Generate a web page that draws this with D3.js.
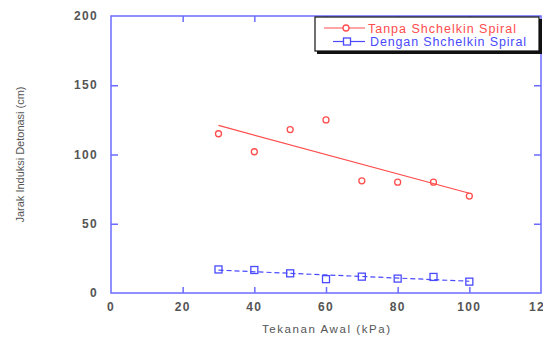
<!DOCTYPE html>
<html>
<head>
<meta charset="utf-8">
<style>
  body { margin: 0; background: #fff; }
  text { font-family: "Liberation Sans", Arial, sans-serif; }
</style>
</head>
<body>
<svg id="chart" width="543" height="338"></svg>
<script src="https://d3js.org/d3.v7.min.js"></script>
<script>

// data
var pressure = [30, 40, 50, 60, 70, 80, 90, 100];
var tanpa = [115, 102, 118, 125, 81, 80, 80, 70];
var dengan = [17, 16.6, 14.2, 10, 11.8, 10.4, 11.6, 8.2];
var tanpaFit = [[30, 121], [100, 72]];
var denganFit = [[30, 16.5], [100, 8.5]];
var xTicks = [0, 20, 40, 60, 80, 100, 120];
var yTicks = [0, 50, 100, 150, 200];
var seriesNames = ["Tanpa Shchelkin Spiral", "Dengan Shchelkin Spiral"];

var svg = d3.select("#chart"),
    margin = {top: 16, right: 2, bottom: 45, left: 111},
    width = +svg.attr("width") - margin.left - margin.right,
    height = +svg.attr("height") - margin.top - margin.bottom,
    g = svg.append("g").attr("transform", "translate(" + margin.left + "," + margin.top + ")");

var axisColor = "#6b6bff",
    red = "#ff4d4d",
    blue = "#4a4aff",
    labelColor = "#555";

var x = d3.scaleLinear().domain([0, 120]).range([0, width]);
var y = d3.scaleLinear().domain([0, 200]).range([height, 0]);

// frame
g.append("rect")
    .attr("width", width)
    .attr("height", height)
    .attr("fill", "none")
    .attr("stroke", axisColor)
    .attr("stroke-width", 1.5);

// inner ticks, all four sides
function ticks(axis, scale, vals) {
  var a = g.append("g");
  if (axis === "bottom") a.attr("transform", "translate(0," + height + ")").call(d3.axisBottom(scale).tickValues(vals).tickSize(-6).tickFormat(""));
  if (axis === "top") a.call(d3.axisTop(scale).tickValues(vals).tickSize(-6).tickFormat(""));
  if (axis === "left") a.call(d3.axisLeft(scale).tickValues(vals).tickSize(-7).tickFormat(""));
  if (axis === "right") a.attr("transform", "translate(" + width + ",0)").call(d3.axisRight(scale).tickValues(vals).tickSize(-7).tickFormat(""));
  a.select(".domain").remove();
  a.selectAll("line").attr("stroke", axisColor).attr("stroke-width", 1.5);
}
ticks("bottom", x, xTicks.slice(1, -1));
ticks("top", x, xTicks.slice(1, -1));
ticks("left", y, yTicks.slice(1, -1));
ticks("right", y, yTicks.slice(1, -1));

// tick labels
g.selectAll(".xlab")
  .data(xTicks)
  .enter().append("text")
    .attr("x", function(d) { return x(d); })
    .attr("y", height + 18)
    .attr("text-anchor", "middle")
    .attr("fill", labelColor)
    .attr("font-size", 12)
    .attr("font-weight", "bold")
    .attr("letter-spacing", 1.3)
    .text(function(d) { return d; });

g.selectAll(".ylab")
  .data(yTicks)
  .enter().append("text")
    .attr("x", -13)
    .attr("y", function(d) { return y(d) + 4; })
    .attr("text-anchor", "end")
    .attr("fill", labelColor)
    .attr("font-size", 12)
    .attr("font-weight", "bold")
    .attr("letter-spacing", 1.3)
    .text(function(d) { return d; });

// axis titles
svg.append("text")
    .attr("x", margin.left + width / 2)
    .attr("y", 333)
    .attr("text-anchor", "middle")
    .attr("fill", labelColor)
    .attr("font-size", 11.5)
    .attr("textLength", 128)
    .attr("lengthAdjust", "spacing")
    .text("Tekanan Awal (kPa)");

svg.append("text")
    .attr("transform", "translate(24," + (margin.top + height / 2) + ") rotate(-90)")
    .attr("text-anchor", "middle")
    .attr("fill", labelColor)
    .attr("font-size", 10)
    .attr("textLength", 136)
    .attr("lengthAdjust", "spacingAndGlyphs")
    .text("Jarak Induksi Detonasi (cm)");

var line = d3.line()
    .x(function(d) { return x(d[0]); })
    .y(function(d) { return y(d[1]); });

// trend lines
g.append("path")
    .datum(tanpaFit)
    .attr("fill", "none")
    .attr("stroke", red)
    .attr("stroke-width", 1.2)
    .attr("d", line);

g.append("path")
    .datum(denganFit)
    .attr("fill", "none")
    .attr("stroke", blue)
    .attr("stroke-width", 1.2)
    .attr("stroke-dasharray", "5,3")
    .attr("d", line);

// markers
g.selectAll(".tanpa")
  .data(pressure)
  .enter().append("circle")
    .attr("cx", function(d) { return x(d); })
    .attr("cy", function(d, i) { return y(tanpa[i]); })
    .attr("r", 3)
    .attr("fill", "none")
    .attr("stroke", red)
    .attr("stroke-width", 1.3);

g.selectAll(".dengan")
  .data(pressure)
  .enter().append("rect")
    .attr("x", function(d) { return x(d) - 3.5; })
    .attr("y", function(d, i) { return y(dengan[i]) - 3.5; })
    .attr("width", 7)
    .attr("height", 7)
    .attr("fill", "none")
    .attr("stroke", blue)
    .attr("stroke-width", 1.3);

// legend
var lg = svg.append("g").attr("transform", "translate(315,17)");
lg.append("rect")
    .attr("x", 2).attr("y", 2)
    .attr("width", 225).attr("height", 35)
    .attr("fill", "#111");
lg.append("rect")
    .attr("width", 224).attr("height", 34)
    .attr("fill", "#fff")
    .attr("stroke", "#111")
    .attr("stroke-width", 1.2);

lg.append("line").attr("x1", 9).attr("x2", 50).attr("y1", 11).attr("y2", 11)
    .attr("stroke", red).attr("stroke-width", 1.2);
lg.append("circle").attr("cx", 31).attr("cy", 11).attr("r", 3)
    .attr("fill", "#fff").attr("stroke", red).attr("stroke-width", 1.3);
lg.append("text").attr("x", 53).attr("y", 15.5)
    .attr("fill", red).attr("font-size", 12.5)
    .attr("textLength", 148).attr("lengthAdjust", "spacing")
    .text(seriesNames[0]);

lg.append("line").attr("x1", 18).attr("x2", 50).attr("y1", 24.5).attr("y2", 24.5)
    .attr("stroke", blue).attr("stroke-width", 1.2);
lg.append("rect").attr("x", 28.5).attr("y", 21).attr("width", 7).attr("height", 7)
    .attr("fill", "#fff").attr("stroke", blue).attr("stroke-width", 1.3);
lg.append("text").attr("x", 55).attr("y", 29)
    .attr("fill", blue).attr("font-size", 12.5)
    .attr("textLength", 156).attr("lengthAdjust", "spacing")
    .text(seriesNames[1]);

</script>
</body>
</html>
